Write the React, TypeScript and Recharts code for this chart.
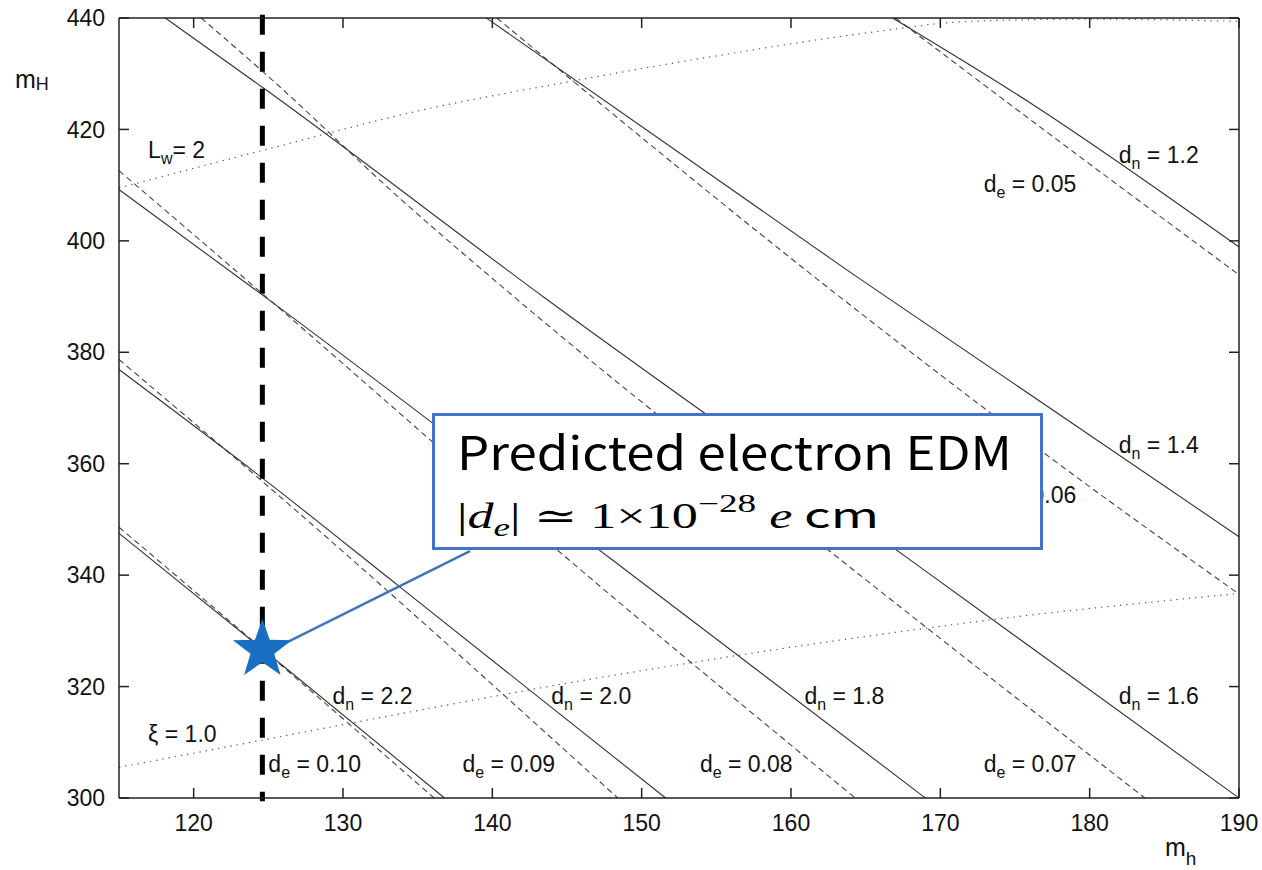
import React from 'react';
import {
  ComposedChart, Line, Scatter, XAxis, YAxis, ReferenceLine, ReferenceDot,
} from 'recharts';

// contour lines (m_h, m_H)
const dn12 = [{ x: 166.8, y: 440 }, { x: 176, y: 424.8 }, { x: 190, y: 398.9 }];
const dn14 = [{ x: 139.6, y: 440 }, { x: 164, y: 394.3 }, { x: 190, y: 346.9 }];
const dn16 = [{ x: 118.1, y: 440 }, { x: 125, y: 426.8 }, { x: 143.5, y: 389.8 }, { x: 168, y: 342.7 }, { x: 190, y: 300 }];
const dn18 = [{ x: 115, y: 409.2 }, { x: 125, y: 389.5 }, { x: 148, y: 342.8 }, { x: 169, y: 300 }];
const dn20 = [{ x: 115, y: 376.9 }, { x: 125, y: 356.6 }, { x: 133.8, y: 337.9 }, { x: 151.6, y: 300 }];
const dn22 = [{ x: 115, y: 347.5 }, { x: 126, y: 323.7 }, { x: 136.8, y: 300 }];

const de05 = [{ x: 167, y: 440 }, { x: 176, y: 421.8 }, { x: 190, y: 393.9 }];
const de06 = [{ x: 140.3, y: 440 }, { x: 163.1, y: 390.3 }, { x: 176.9, y: 362 }, { x: 190, y: 336.6 }];
const de07 = [{ x: 120.5, y: 440 }, { x: 125, y: 429.5 }, { x: 133.9, y: 407.4 }, { x: 141.7, y: 389.4 }, { x: 163.3, y: 342.8 }, { x: 183.7, y: 300 }];
const de08 = [{ x: 115, y: 412.6 }, { x: 125, y: 389.6 }, { x: 145.1, y: 342.8 }, { x: 164.3, y: 300 }];
const de09 = [{ x: 115, y: 378.7 }, { x: 125, y: 355.9 }, { x: 148.4, y: 300 }];
const de10 = [{ x: 115, y: 348.6 }, { x: 125, y: 325.8 }, { x: 136.1, y: 300 }];

const lw2 = [{ x: 115, y: 409.5 }, { x: 125, y: 416.5 }, { x: 135, y: 423.3 }, { x: 145, y: 428.5 }, { x: 155, y: 433.2 }, { x: 165, y: 437.3 }, { x: 172, y: 439.4 }, { x: 180, y: 439.8 }, { x: 190, y: 439.4 }];
const xi1 = [{ x: 115, y: 305.5 }, { x: 125, y: 310.6 }, { x: 135, y: 315.7 }, { x: 145, y: 320.6 }, { x: 155, y: 325 }, { x: 165, y: 329 }, { x: 175, y: 332.5 }, { x: 190, y: 336.7 }];

const prediction = [{ x: 124.6, y: 326.6 }];
const mhObserved = 124.6;

const xTicks = [120, 130, 140, 150, 160, 170, 180, 190];
const yTicks = [300, 320, 340, 360, 380, 400, 420, 440];

const solidSeries = [dn12, dn14, dn16, dn18, dn20, dn22];
const dashedSeries = [de05, de06, de07, de08, de09, de10];
const dottedSeries = [lw2, xi1];

const contourLabels = [
  { main: 'd', sub: 'n', rest: ' = 1.2', x: 181.95, y: 413.9 },
  { main: 'd', sub: 'e', rest: ' = 0.05', x: 172.9, y: 408.8 },
  { main: 'd', sub: 'n', rest: ' = 1.4', x: 181.95, y: 362.0 },
  { main: 'd', sub: 'e', rest: ' = 0.06', x: 172.9, y: 353.0 },
  { main: 'd', sub: 'n', rest: ' = 2.2', x: 129.3, y: 316.8 },
  { main: 'd', sub: 'n', rest: ' = 2.0', x: 143.95, y: 316.8 },
  { main: 'd', sub: 'n', rest: ' = 1.8', x: 160.9, y: 316.8 },
  { main: 'd', sub: 'n', rest: ' = 1.6', x: 181.95, y: 316.8 },
  { main: 'd', sub: 'e', rest: ' = 0.10', x: 125.0, y: 304.6 },
  { main: 'd', sub: 'e', rest: ' = 0.09', x: 138.0, y: 304.6 },
  { main: 'd', sub: 'e', rest: ' = 0.08', x: 153.9, y: 304.6 },
  { main: 'd', sub: 'e', rest: ' = 0.07', x: 172.9, y: 304.6 },
  { main: 'ξ = 1.0', sub: '', rest: '', x: 116.95, y: 310.1 },
  { main: 'L', sub: 'w', rest: '= 2', x: 116.95, y: 414.9 },
];

const X_MIN = 115, X_MAX = 190, Y_MIN = 300, Y_MAX = 440;

// tick positions on the mirrored top / right frame
const topTickPts = xTicks.map((t) => ({ x: t, y: Y_MAX }));
const rightTickPts = yTicks.map((t) => ({ x: X_MAX, y: t }));

const SANS = '"Liberation Sans", Arial, Helvetica, sans-serif';
const AXIS = '#222';
const BLUE = '#4472c4';

const starShape = (props: any) => {
  const { cx, cy } = props;
  const R = 31;
  const r = 12.5;
  const pts: string[] = [];
  for (let i = 0; i < 10; i++) {
    const rad = i % 2 === 0 ? R : r;
    const a = -Math.PI / 2 + (i * Math.PI) / 5;
    pts.push(`${cx + rad * Math.cos(a)},${cy + rad * Math.sin(a)}`);
  }
  return <polygon points={pts.join(' ')} fill="#1a6ec2" />;
};

const topTick = (p: any) => (
  <path d={`M${p.cx},${p.cy}v10`} stroke={AXIS} strokeWidth={1.5} fill="none" />
);
const rightTick = (p: any) => (
  <path d={`M${p.cx},${p.cy}h-10`} stroke={AXIS} strokeWidth={1.5} fill="none" />
);

const labelShape = (lab: any) => (props: any) => (
  <text x={props.cx} y={props.cy} fontFamily={SANS} fontSize={23} fill="#111">
    <tspan>{lab.main}</tspan>
    {lab.sub && <tspan fontSize={16} dy={6}>{lab.sub}</tspan>}
    {lab.rest && <tspan dy={lab.sub ? -6 : 0}>{lab.rest}</tspan>}
  </text>
);

export default function App() {
  return (
    <div style={{ position: 'absolute', left: 0, top: 0, width: 1262, height: 870, background: '#fff' }}>
      <ComposedChart
        width={1262}
        height={870}
        margin={{ top: 17, right: 22, bottom: 0, left: 0 }}
      >
        <XAxis
          dataKey="x" type="number" domain={[X_MIN, X_MAX]} ticks={xTicks}
          height={72} tickSize={-10} tickMargin={27}
          axisLine={{ stroke: AXIS, strokeWidth: 1.5 }}
          tickLine={{ stroke: AXIS, strokeWidth: 1.5 }}
          tick={{ fontSize: 23, fill: '#111', fontFamily: SANS }}
        />
        <XAxis
          xAxisId="top" orientation="top" type="number" domain={[X_MIN, X_MAX]}
          height={1} tick={false} tickLine={false}
          axisLine={{ stroke: AXIS, strokeWidth: 1.5 }}
        />
        <YAxis
          dataKey="y" type="number" domain={[Y_MIN, Y_MAX]} ticks={yTicks}
          width={119} tickSize={-10} tickMargin={24}
          axisLine={{ stroke: AXIS, strokeWidth: 1.5 }}
          tickLine={{ stroke: AXIS, strokeWidth: 1.5 }}
          tick={{ fontSize: 23, fill: '#111', fontFamily: SANS }}
        />
        <YAxis
          yAxisId="right" orientation="right" type="number" domain={[Y_MIN, Y_MAX]}
          width={1} tick={false} tickLine={false}
          axisLine={{ stroke: AXIS, strokeWidth: 1.5 }}
        />

        <Scatter data={topTickPts} shape={topTick} isAnimationActive={false} />
        <Scatter data={rightTickPts} shape={rightTick} isAnimationActive={false} />

        <Scatter data={prediction} shape={starShape} isAnimationActive={false} />

        {dottedSeries.map((d, i) => (
          <Line key={'dot' + i} data={d} dataKey="y" type="monotone" stroke="#555"
            strokeWidth={1.2} strokeDasharray="1.3 5" dot={false} activeDot={false}
            isAnimationActive={false} />
        ))}
        {dashedSeries.map((d, i) => (
          <Line key={'de' + i} data={d} dataKey="y" type="monotone" stroke="#444"
            strokeWidth={1.1} strokeDasharray="6 4" dot={false} activeDot={false}
            isAnimationActive={false} />
        ))}
        {solidSeries.map((d, i) => (
          <Line key={'dn' + i} data={d} dataKey="y" type="monotone" stroke="#333"
            strokeWidth={1.1} dot={false} activeDot={false} isAnimationActive={false} />
        ))}

        <ReferenceLine
          segment={[{ x: mhObserved, y: 440.6 }, { x: mhObserved, y: 299.4 }]}
          ifOverflow="visible" stroke="#000" strokeWidth={5} strokeDasharray="20 17"
        />
        <ReferenceLine
          segment={[{ x: 125.9, y: 327.5 }, { x: 138.5, y: 344.3 }]}
          ifOverflow="visible" stroke={BLUE} strokeWidth={2.5}
        />

        {contourLabels.map((lab, i) => (
          <ReferenceDot key={'lab' + i} x={lab.x} y={lab.y} r={0} ifOverflow="visible"
            shape={labelShape(lab)} />
        ))}
      </ComposedChart>

      <svg width={1262} height={870}
        style={{ position: 'absolute', left: 0, top: 0, pointerEvents: 'none' }}>
        <text x={15} y={88} fontFamily={SANS} fontSize={25} fill="#111">
          <tspan>m</tspan><tspan fontSize={18} dy={2}>H</tspan>
        </text>
        <text x={1165} y={856} fontFamily={SANS} fontSize={25} fill="#111">
          <tspan>m</tspan><tspan fontSize={19} dy={9}>h</tspan>
        </text>

        <rect x={433.5} y={414.5} width={608} height={134} fill="#fff" stroke={BLUE} strokeWidth={3} />
        <text x={457} y={470} fontFamily='"Noto Sans CJK JP", "Noto Sans", sans-serif' fontSize={46}
          fill="#000" textLength={555} lengthAdjust="spacingAndGlyphs">
          Predicted electron EDM
        </text>
        <text x={457} y={528} fontFamily='"Liberation Serif", "DejaVu Serif", serif' fontSize={35}
          fill="#000" textLength={422} lengthAdjust="spacingAndGlyphs">
          <tspan>|</tspan>
          <tspan fontStyle="italic">d</tspan>
          <tspan fontStyle="italic" fontSize={25} dy={8}>e</tspan>
          <tspan dy={-8}>{'| \u2243 1\u00d710'}</tspan>
          <tspan fontSize={25} dy={-16}>{'\u221228'}</tspan>
          <tspan dy={16} fontStyle="italic">{' e'}</tspan>
          <tspan fontFamily='"Noto Sans CJK JP", "Noto Sans", sans-serif'>{' cm'}</tspan>
        </text>
      </svg>
    </div>
  );
}
